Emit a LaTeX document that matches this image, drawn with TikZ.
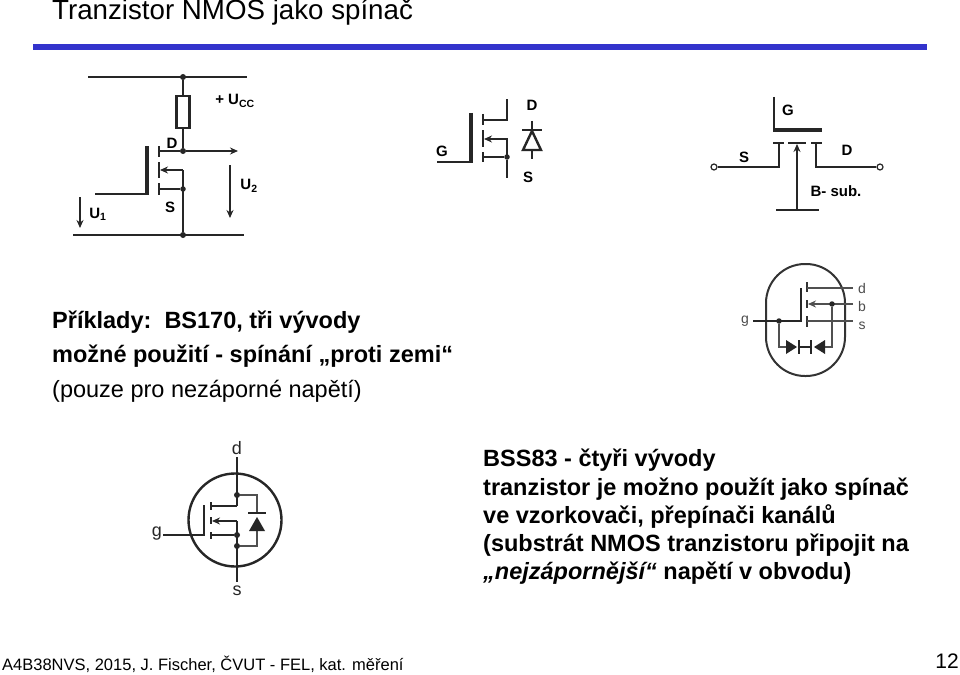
\documentclass[tikz,border=0pt]{standalone}
\usepackage{fontspec}
\setmainfont{Liberation Sans}
\usetikzlibrary{arrows.meta}
\definecolor{barblue}{RGB}{51,51,204}
\definecolor{grayline}{RGB}{80,80,80}
\begin{document}
\begin{tikzpicture}[x=1pt,y=-1pt,>={Stealth[length=8pt,width=7pt]},
		wire/.style={line width=1.5pt,black!85},
		thick wire/.style={line width=3.5pt,black!85},
		pad/.style={line width=2.5pt,black!85},
		dot/.style={circle,fill=black!85,inner sep=0pt,minimum size=6pt},
		small dot/.style={circle,fill=black!85,inner sep=0pt,minimum size=5.5pt},
		pin/.style={circle,draw=black!85,fill=white,line width=1.2pt,inner sep=0pt,minimum size=6pt},
		label/.style={font=\bfseries\fontsize{15}{15}\selectfont,inner sep=0pt},
		body/.style={font=\fontsize{23.5}{28}\selectfont,anchor=base west,inner sep=0pt},
		boldbody/.style={font=\bfseries\fontsize{23.5}{28}\selectfont,anchor=base west,inner sep=0pt},
		pkg/.style={font=\fontsize{14}{14}\selectfont,inner sep=0pt,black!70},
		pkgb/.style={font=\fontsize{18}{18}\selectfont,inner sep=0pt,black!85}]
		\useasboundingbox (0,0) rectangle (960,674);
		\fill[white] (0,0) rectangle (960,674);
		% header
		\node[anchor=base west,inner sep=0pt,font=\fontsize{27.7}{28}\selectfont] (title) at (52,20) {Tranzistor NMOS jako spínač};
		\fill[barblue] (33,44) rectangle (927,50);
		% switch circuit
		\coordinate (topl) at (88,77);
		\coordinate (topr) at (247,77);
		\node[dot] (vcc) at (183,77) {};
		\node[dot] (drain) at (183,151) {};
		\node[small dot] (src) at (183,189) {};
		\node[dot] (gnd) at (183,235) {};
		\coordinate (botl) at (73,235);
		\coordinate (botr) at (244,235);
		\coordinate (mid) at (183,170);
		\coordinate (out) at (238,151);
		\draw[wire] (topl) -- (topr);
		\draw[wire] (botl) -- (botr);
		\node[draw=black!85,line width=2.5pt,minimum width=13pt,minimum height=32pt,inner sep=0pt] (rc) at (183,112) {};
		\draw[wire] (vcc) -- (rc);
		\draw[wire] (rc) -- (drain);
		\draw[wire,->] (drain) -- (out);
		\draw[wire,->] (mid) -- (160,170);
		\draw[wire] (mid) -- (gnd);
		\draw[wire] (159,151) -- (drain);
		\draw[wire] (159,189) -- (src);
		\draw[thick wire] (147,146) -- (147,195);
		\draw[wire,line width=1.8pt] (95,194) -- (147,194);
		\draw[pad] (159,146) -- (159,157) (159,162) -- (159,178) (159,183) -- (159,195);
		\draw[wire,->] (230,165) -- (230,218);
		\draw[wire,->] (80,197) -- (80,228);
		\node[label] (ucc) at (235,101) {+ U\textsubscript{CC}};
		\node[label] (dlab) at (172,143) {D};
		\node[label] (slab) at (170,207) {S};
		\node[label] (u1) at (98,214) {U\textsubscript{1}};
		\node[label] (u2) at (249,186) {U\textsubscript{2}};
		% mosfet with diode
		\draw[thick wire] (471,113) -- (471,163);
		\draw[wire,line width=1.8pt] (437,162) -- (471,162);
		\draw[pad] (483,114) -- (483,125) (483,130) -- (483,147) (483,152) -- (483,162);
		\node[small dot] (src2) at (507,157) {};
		\draw[wire] (483,120) -- (507,120) -- (507,99);
		\draw[wire,->] (507,157) -- (507,139) -- (484,139);
		\draw[wire] (483,157) -- (src2);
		\draw[wire] (src2) -- (507,178);
		\draw[wire] (532,121) -- (532,130) (532,150) -- (532,159);
		\draw[line width=2pt,black!85] (522,130) -- (542,130);
		\draw[line width=2.4pt,black!85] (532,131) -- (541,150) -- (523,150) -- cycle;
		\node[label] (g2) at (442,151) {G};
		\node[label] (d2) at (532,105) {D};
		\node[label] (s2) at (528,177) {S};
		% lateral structure
		\node[pin] (pins) at (714,167) {};
		\node[pin] (pind) at (880,167) {};
		\draw[wire] (774,97) -- (774,130);
		\draw[thick wire] (773,130) -- (822,130);
		\draw[pad] (773,143) -- (784,143) (788,143) -- (806,143) (811,143) -- (822,143);
		\draw[wire] (pins) -- (779,167) -- (779,143);
		\draw[wire] (pind) -- (816,167) -- (816,143);
		\draw[wire,->] (797,210) -- (797,144);
		\draw[pad] (776,210) -- (819,210);
		\node[label] (gl) at (788,110) {G};
		\node[label] (sl) at (744,157) {S};
		\node[label] (dl) at (847,150) {D};
		\node[label] (bl) at (836,191) {B- sub.};
		% first text
		\node[boldbody] (ex1) at (52,328) {Příklady:\ \ BS170, tři vývody};
		\node[boldbody] (ex2) at (52,362) {možné použití - spínání „proti zemi“};
		\node[body] (ex3) at (52,397) {(pouze pro nezáporné napětí)};
		% oval package
		\draw[line width=2pt,black!80,rounded corners=39pt] (766,264) rectangle (845,376);
		\draw[pad,black!80] (807,282) -- (807,292) (807,300) -- (807,308) (807,316) -- (807,327);
		\draw[wire,black!85] (801,288) -- (801,321) -- (753,321);
		\draw[wire,grayline,line width=1.2pt] (807,288) -- (853,288) (807,321) -- (853,321);
		\draw[wire,grayline,line width=1.2pt,->] (853,304) -- (808,304);
		\node[small dot] (bdot) at (832,304) {};
		\node[small dot] (gdot) at (779,321) {};
		\draw[wire,grayline,line width=1.2pt] (gdot) -- (779,347) -- (786,347);
		\draw[wire,grayline,line width=1.2pt] (bdot) -- (832,347) -- (825,347);
		\fill[black!85] (786,340) -- (797,347) -- (786,354) -- cycle;
		\fill[black!85] (825,340) -- (814,347) -- (825,354) -- cycle;
		\draw[pad,black!85] (799,340) -- (799,354) (811,340) -- (811,354);
		\draw[wire,black!85] (799,347) -- (811,347);
		\node[pkg] (g3) at (745,321) {g};
		\node[pkg] (d3) at (862,288) {d};
		\node[pkg] (b3) at (862,306) {b};
		\node[pkg] (s3) at (862,326) {s};
		% round package
		\draw[line width=2.4pt,black!85] (235,520) circle (46.5pt);
		\draw[line width=2.4pt,black!85] (237,457) -- (237,506) (237,521) -- (237,582);
		\node[dot] (d4) at (237,495) {};
		\node[dot] (s4) at (237,535) {};
		\node[dot] (b4) at (237,546) {};
		\draw[wire] (211,506) -- (237,506);
		\draw[wire,->] (237,521) -- (212,521);
		\draw[wire] (211,535) -- (s4);
		\draw[pad] (211,502) -- (211,510) (211,517) -- (211,524) (211,532) -- (211,539);
		\draw[wire] (163,535) -- (204,535) -- (204,505);
		\draw[wire,grayline,line width=1.2pt] (d4) -- (257,495) -- (257,514) (257,531) -- (257,546) -- (b4);
		\draw[line width=2.4pt,black!85] (248,513) -- (266,513);
		\fill[black!85] (257,517) -- (265,531) -- (249,531) -- cycle;
		\node[pkgb] (g4) at (157,534) {g};
		\node[pkgb] (d4l) at (237,448) {d};
		\node[pkgb] (s4l) at (237,591) {s};
		% second text
		\node[boldbody] (bs1) at (483,466) {BSS83 - čtyři vývody};
		\node[boldbody] (bs2) at (483,495) {tranzistor je možno použít jako spínač};
		\node[boldbody] (bs3) at (483,523) {ve vzorkovači, přepínači kanálů};
		\node[boldbody] (bs4) at (483,551) {(substrát NMOS tranzistoru připojit na};
		\node[boldbody] (bs5) at (483,579) {\textit{„nejzápornější“} napětí v obvodu)};
		% footer
		\node[anchor=base west,inner sep=0pt,font=\fontsize{16.5}{18}\selectfont] (foot) at (2,670) {A4B38NVS, 2015, J. Fischer, ČVUT - FEL, kat. měření};
		\node[anchor=base east,inner sep=0pt,font=\fontsize{21}{21}\selectfont] (page) at (959,668) {12};
		\end{tikzpicture}
\end{document}
